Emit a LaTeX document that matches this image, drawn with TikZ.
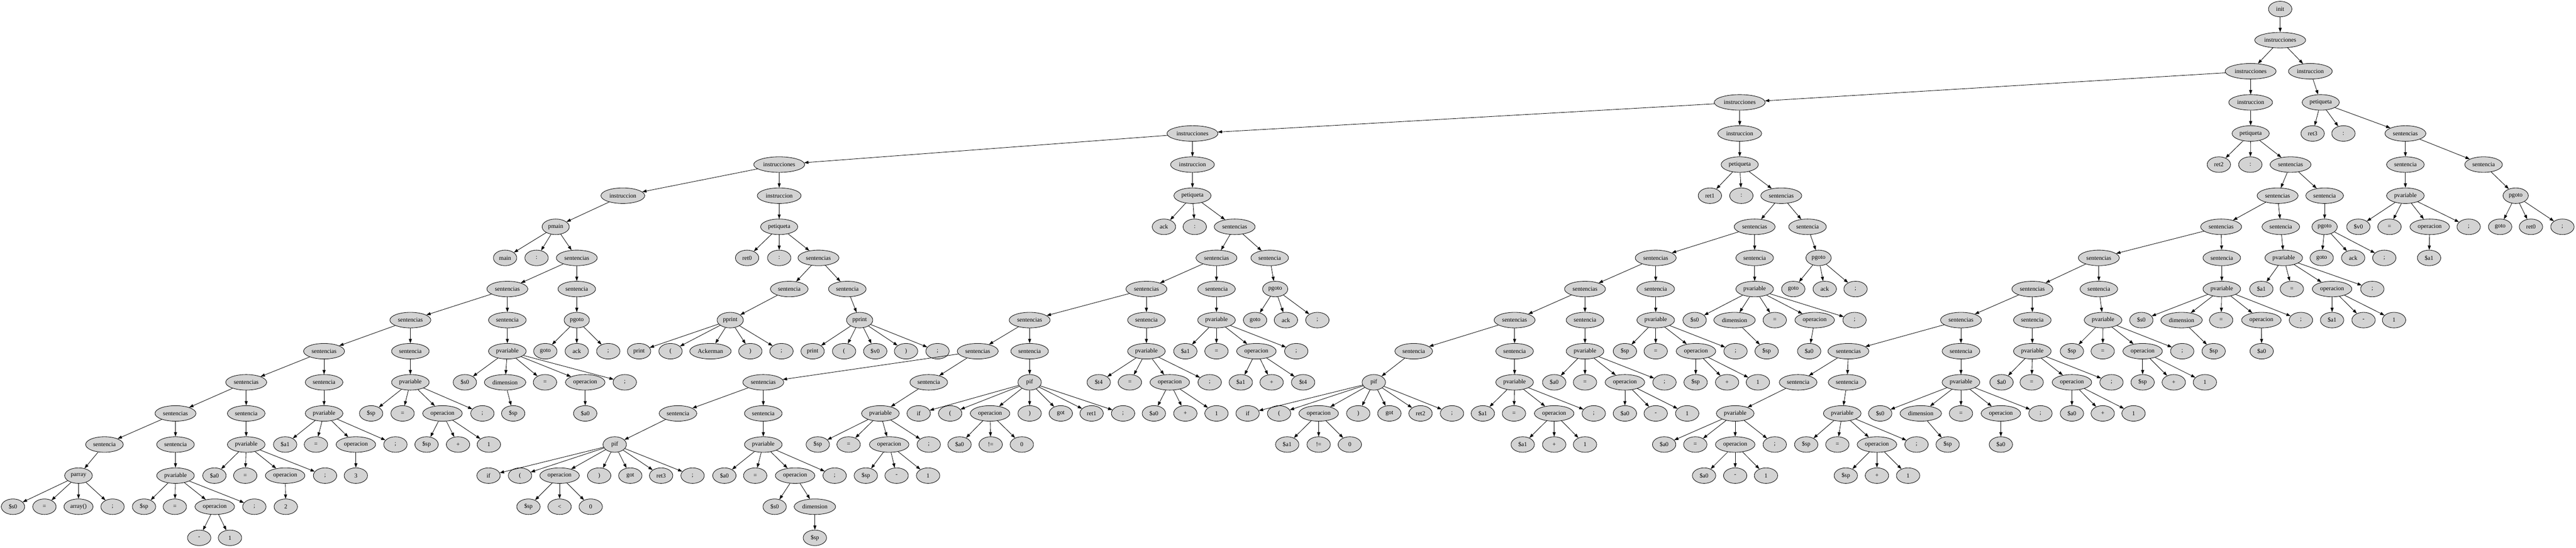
\documentclass[tikz,border=0pt]{standalone}
\usepackage{fontspec}
\setmainfont{Liberation Serif}
\usepackage{xcolor}
\usetikzlibrary{shapes.geometric,arrows.meta}
\definecolor{nodegray}{HTML}{D3D3D3}

\begin{document}
\begin{tikzpicture}[
    x=0.75bp,
    y=-72bp,
    tok/.style={ellipse,draw,fill=nodegray,line width=1bp,
        minimum width=54bp,minimum height=36bp,
        inner xsep=4.7bp,inner ysep=0pt,
        font={\fontsize{14bp}{16bp}\selectfont}},
    link/.style={-{Triangle[length=10bp,width=7bp]},line width=1bp},
    ]

    % page frame (x in pixels, y in ranks)
    \useasboundingbox (0,-0.2917) rectangle (7941,17.3229);

    % spine
    \node[tok] (init) at (7029,0) {init};
    \node[tok] (ins1) at (7029,1) {instrucciones};
    \node[tok] (ins2) at (6938,2) {instrucciones};
    \node[tok] (in6)  at (7122,2) {instruccion};
    \node[tok] (ins3) at (5363,3) {instrucciones};
    \node[tok] (in5)  at (6938,3) {instruccion};
    \node[tok] (pe6)  at (7154,3) {petiqueta};
    \node[tok] (ins4) at (3676,4) {instrucciones};
    \node[tok] (in4)  at (5363,4) {instruccion};
    \node[tok] (pe5)  at (6938,4) {petiqueta};
    \node[tok] (ins5) at (2402,5) {instrucciones};
    \node[tok] (in3)  at (3676,5) {instruccion};
    \node[tok] (pe4)  at (5363,5) {petiqueta};
    \node[tok] (in1)  at (1920,6) {instruccion};
    \node[tok] (in2)  at (2402,6) {instruccion};
    \node[tok] (pe3)  at (3676,6) {petiqueta};
    \node[tok] (pm)   at (1713,7) {pmain};
    \node[tok] (pe2)  at (2402,7) {petiqueta};

    \draw[link] (init) edge (ins1);
    \draw[link] (ins1) edge (ins2) edge (in6);
    \draw[link] (ins2) edge (ins3) edge (in5);
    \draw[link] (ins3) edge (ins4) edge (in4);
    \draw[link] (ins4) edge (ins5) edge (in3);
    \draw[link] (ins5) edge (in1) edge (in2);
    \draw[link] (in1) edge (pm);
    \draw[link] (in2) edge (pe2);
    \draw[link] (in3) edge (pe3);
    \draw[link] (in4) edge (pe4);
    \draw[link] (in5) edge (pe5);
    \draw[link] (in6) edge (pe6);

    % main
    \node[tok] (mlab) at (1557,8) {main};
    \node[tok] (mcol) at (1654,8) {:};
    \node[tok] (ms1)  at (1778,8) {sentencias};
    \node[tok] (ms2)  at (1564,9) {sentencias};
    \node[tok] (mst1) at (1778,9) {sentencia};
    \node[tok] (ms3)  at (1265,10) {sentencias};
    \node[tok] (mst2) at (1564,10) {sentencia};
    \node[tok] (mgo)  at (1778,10) {pgoto};
    \node[tok] (mgo1) at (1681,11) {goto};
    \node[tok] (mgo2) at (1778,11) {ack};
    \node[tok] (mgo3) at (1875,11) {;};
    \node[tok] (mpv2) at (1564,11) {pvariable};
    \node[tok] (mpv2a) at (1433,12) {\$s0};
    \node[tok] (mpv2b) at (1557,12) {dimension};
    \node[tok] (mpv2c) at (1680,12) {=};
    \node[tok] (mpv2d) at (1804,12) {operacion};
    \node[tok] (mpv2e) at (1926,12) {;};
    \node[tok] (mpv2f) at (1582,13) {\$sp};
    \node[tok] (mpv2g) at (1804,13) {\$a0};
    \node[tok] (ms4)  at (999,11) {sentencias};
    \node[tok] (mst3) at (1265,11) {sentencia};
    \node[tok] (mpv3) at (1265,12) {pvariable};
    \node[tok] (mpv3a) at (1144,13) {\$sp};
    \node[tok] (mpv3b) at (1241,13) {=};
    \node[tok] (mpv3c) at (1364,13) {operacion};
    \node[tok] (mpv3d) at (1487,13) {;};
    \node[tok] (mop3a) at (1315,14) {\$sp};
    \node[tok] (mop3b) at (1412,14) {+};
    \node[tok] (mop3c) at (1507,14) {1};
    \node[tok] (ms5)  at (759,12) {sentencias};
    \node[tok] (mst4) at (999,12) {sentencia};
    \node[tok] (mpv4) at (999,13) {pvariable};
    \node[tok] (mpv4a) at (879,14) {\$a1};
    \node[tok] (mpv4b) at (974,14) {=};
    \node[tok] (mpv4c) at (1097,14) {operacion};
    \node[tok] (mpv4d) at (1219,14) {;};
    \node[tok] (mop4a) at (1097,15) {3};
    \node[tok] (ms6)  at (541,13) {sentencias};
    \node[tok] (mst5) at (759,13) {sentencia};
    \node[tok] (mpv5) at (759,14) {pvariable};
    \node[tok] (mpv5a) at (661,15) {\$a0};
    \node[tok] (mpv5b) at (756,15) {=};
    \node[tok] (mpv5c) at (879,15) {operacion};
    \node[tok] (mpv5d) at (1002,15) {;};
    \node[tok] (mop5a) at (881,16) {2};
    \node[tok] (mst6) at (322,14) {sentencia};
    \node[tok] (mst7) at (541,14) {sentencia};
    \node[tok] (mpa)  at (242,15) {parray};
    \node[tok] (mpaa) at (40,16) {\$s0};
    \node[tok] (mpab) at (137,16) {=};
    \node[tok] (mpac) at (242,16) {array()};
    \node[tok] (mpad) at (347,16) {;};
    \node[tok] (mpv7) at (541,15) {pvariable};
    \node[tok] (mpv7a) at (444,16) {\$sp};
    \node[tok] (mpv7b) at (539,16) {=};
    \node[tok] (mpv7c) at (662,16) {operacion};
    \node[tok] (mpv7d) at (784,16) {;};
    \node[tok] (mop7a) at (614,17) {-};
    \node[tok] (mop7b) at (709,17) {1};

    \draw[link] (pm) edge (mlab) edge (mcol) edge (ms1);
    \draw[link] (ms1) edge (ms2) edge (mst1);
    \draw[link] (mst1) edge (mgo);
    \draw[link] (mgo) edge (mgo1) edge (mgo2) edge (mgo3);
    \draw[link] (ms2) edge (ms3) edge (mst2);
    \draw[link] (mst2) edge (mpv2);
    \draw[link] (mpv2) edge (mpv2a) edge (mpv2b) edge (mpv2c) edge (mpv2d) edge (mpv2e);
    \draw[link] (mpv2b) edge (mpv2f);
    \draw[link] (mpv2d) edge (mpv2g);
    \draw[link] (ms3) edge (ms4) edge (mst3);
    \draw[link] (mst3) edge (mpv3);
    \draw[link] (mpv3) edge (mpv3a) edge (mpv3b) edge (mpv3c) edge (mpv3d);
    \draw[link] (mpv3c) edge (mop3a) edge (mop3b) edge (mop3c);
    \draw[link] (ms4) edge (ms5) edge (mst4);
    \draw[link] (mst4) edge (mpv4);
    \draw[link] (mpv4) edge (mpv4a) edge (mpv4b) edge (mpv4c) edge (mpv4d);
    \draw[link] (mpv4c) edge (mop4a);
    \draw[link] (ms5) edge (ms6) edge (mst5);
    \draw[link] (mst5) edge (mpv5);
    \draw[link] (mpv5) edge (mpv5a) edge (mpv5b) edge (mpv5c) edge (mpv5d);
    \draw[link] (mpv5c) edge (mop5a);
    \draw[link] (ms6) edge (mst6) edge (mst7);
    \draw[link] (mst6) edge (mpa);
    \draw[link] (mpa) edge (mpaa) edge (mpab) edge (mpac) edge (mpad);
    \draw[link] (mst7) edge (mpv7);
    \draw[link] (mpv7) edge (mpv7a) edge (mpv7b) edge (mpv7c) edge (mpv7d);
    \draw[link] (mpv7c) edge (mop7a) edge (mop7b);

    % ret0
    \node[tok] (rlab) at (2303,8) {ret0};
    \node[tok] (rcol) at (2402,8) {:};
    \node[tok] (rs1)  at (2523,8) {sentencias};
    \node[tok] (rst1) at (2433,9) {sentencia};
    \node[tok] (rst2) at (2612,9) {sentencia};
    \node[tok] (rpp1) at (2251,10) {pprint};
    \node[tok] (rpp2) at (2650,10) {pprint};
    \node[tok] (rpp1a) at (1970,11) {print};
    \node[tok] (rpp1b) at (2067,11) {(};
    \node[tok] (rpp1c) at (2190,11) {Ackerman};
    \node[tok] (rpp1d) at (2313,11) {)};
    \node[tok] (rpp1e) at (2409,11) {;};
    \node[tok] (rpp2a) at (2505,11) {print};
    \node[tok] (rpp2b) at (2602,11) {(};
    \node[tok] (rpp2c) at (2698,11) {\$v0};
    \node[tok] (rpp2d) at (2793,11) {)};
    \node[tok] (rpp2e) at (2890,11) {;};

    \draw[link] (pe2) edge (rlab) edge (rcol) edge (rs1);
    \draw[link] (rs1) edge (rst1) edge (rst2);
    \draw[link] (rst1) edge (rpp1);
    \draw[link] (rst2) edge (rpp2);
    \draw[link] (rpp1) edge (rpp1a) edge (rpp1b) edge (rpp1c) edge (rpp1d) edge (rpp1e);
    \draw[link] (rpp2) edge (rpp2a) edge (rpp2b) edge (rpp2c) edge (rpp2d) edge (rpp2e);

    % ack
    \node[tok] (klab) at (3588,7) {ack};
    \node[tok] (kcol) at (3683,7) {:};
    \node[tok] (ks1)  at (3806,7) {sentencias};
    \node[tok] (ks2)  at (3750,8) {sentencias};
    \node[tok] (kst1) at (3914,8) {sentencia};
    \node[tok] (kgo)  at (3931,9) {pgoto};
    \node[tok] (kgo1) at (3869,10) {goto};
    \node[tok] (kgo2) at (3964,10) {ack};
    \node[tok] (kgo3) at (4061,10) {;};
    \node[tok] (ks3)  at (3534,9) {sentencias};
    \node[tok] (kst2) at (3750,9) {sentencia};
    \node[tok] (kpv2) at (3750,10) {pvariable};
    \node[tok] (kpv2a) at (3654,11) {\$a1};
    \node[tok] (kpv2b) at (3750,11) {=};
    \node[tok] (kpv2c) at (3873,11) {operacion};
    \node[tok] (kpv2d) at (3996,11) {;};
    \node[tok] (kop2a) at (3825,12) {\$a1};
    \node[tok] (kop2b) at (3920,12) {+};
    \node[tok] (kop2c) at (4017,12) {\$t4};
    \node[tok] (ks4)  at (3174,10) {sentencias};
    \node[tok] (kst3) at (3534,10) {sentencia};
    \node[tok] (kpv3) at (3534,11) {pvariable};
    \node[tok] (kpv3a) at (3387,12) {\$t4};
    \node[tok] (kpv3b) at (3483,12) {=};
    \node[tok] (kpv3c) at (3606,12) {operacion};
    \node[tok] (kpv3d) at (3729,12) {;};
    \node[tok] (kop3a) at (3557,13) {\$a0};
    \node[tok] (kop3b) at (3654,13) {+};
    \node[tok] (kop3c) at (3750,13) {1};
    \node[tok] (ks5)  at (3014,11) {sentencias};
    \node[tok] (kst4) at (3174,11) {sentencia};
    \node[tok] (kif4) at (3174,12) {pif};
    \node[tok] (kif4a) at (2832,13) {if};
    \node[tok] (kif4b) at (2929,13) {(};
    \node[tok] (kif4c) at (3052,13) {operacion};
    \node[tok] (kif4d) at (3174,13) {)};
    \node[tok] (kif4e) at (3270,13) {got};
    \node[tok] (kif4f) at (3365,13) {ret1};
    \node[tok] (kif4g) at (3462,13) {;};
    \node[tok] (kop4a) at (2958,14) {\$a0};
    \node[tok] (kop4b) at (3054,14) {!=};
    \node[tok] (kop4c) at (3150,14) {0};
    \node[tok] (ks6)  at (2353,12) {sentencias};
    \node[tok] (kst5) at (2863,12) {sentencia};
    \node[tok] (kpv5) at (2714,13) {pvariable};
    \node[tok] (kpv5a) at (2521,14) {\$sp};
    \node[tok] (kpv5b) at (2616,14) {=};
    \node[tok] (kpv5c) at (2741,14) {operacion};
    \node[tok] (kpv5d) at (2863,14) {;};
    \node[tok] (kop5a) at (2669,15) {\$sp};
    \node[tok] (kop5b) at (2764,15) {-};
    \node[tok] (kop5c) at (2861,15) {1};
    \node[tok] (kst6) at (2090,13) {sentencia};
    \node[tok] (kst7) at (2353,13) {sentencia};
    \node[tok] (kif6) at (1895,14) {pif};
    \node[tok] (kif6a) at (1506,15) {if};
    \node[tok] (kif6b) at (1603,15) {(};
    \node[tok] (kif6c) at (1725,15) {operacion};
    \node[tok] (kif6d) at (1847,15) {)};
    \node[tok] (kif6e) at (1943,15) {got};
    \node[tok] (kif6f) at (2038,15) {ret3};
    \node[tok] (kif6g) at (2135,15) {;};
    \node[tok] (kop6a) at (1629,16) {\$sp};
    \node[tok] (kop6b) at (1725,16) {<};
    \node[tok] (kop6c) at (1821,16) {0};
    \node[tok] (kpv7) at (2353,14) {pvariable};
    \node[tok] (kpv7a) at (2233,15) {\$a0};
    \node[tok] (kpv7b) at (2328,15) {=};
    \node[tok] (kpv7c) at (2451,15) {operacion};
    \node[tok] (kpv7d) at (2573,15) {;};
    \node[tok] (kop7a) at (2388,16) {\$s0};
    \node[tok] (kop7b) at (2512,16) {dimension};
    \node[tok] (kop7c) at (2512,17) {\$sp};

    \draw[link] (pe3) edge (klab) edge (kcol) edge (ks1);
    \draw[link] (ks1) edge (ks2) edge (kst1);
    \draw[link] (kst1) edge (kgo);
    \draw[link] (kgo) edge (kgo1) edge (kgo2) edge (kgo3);
    \draw[link] (ks2) edge (ks3) edge (kst2);
    \draw[link] (kst2) edge (kpv2);
    \draw[link] (kpv2) edge (kpv2a) edge (kpv2b) edge (kpv2c) edge (kpv2d);
    \draw[link] (kpv2c) edge (kop2a) edge (kop2b) edge (kop2c);
    \draw[link] (ks3) edge (ks4) edge (kst3);
    \draw[link] (kst3) edge (kpv3);
    \draw[link] (kpv3) edge (kpv3a) edge (kpv3b) edge (kpv3c) edge (kpv3d);
    \draw[link] (kpv3c) edge (kop3a) edge (kop3b) edge (kop3c);
    \draw[link] (ks4) edge (ks5) edge (kst4);
    \draw[link] (kst4) edge (kif4);
    \draw[link] (kif4) edge (kif4a) edge (kif4b) edge (kif4c) edge (kif4d)
                       edge (kif4e) edge (kif4f) edge (kif4g);
    \draw[link] (kif4c) edge (kop4a) edge (kop4b) edge (kop4c);
    \draw[link] (ks5) edge (ks6) edge (kst5);
    \draw[link] (kst5) edge (kpv5);
    \draw[link] (kpv5) edge (kpv5a) edge (kpv5b) edge (kpv5c) edge (kpv5d);
    \draw[link] (kpv5c) edge (kop5a) edge (kop5b) edge (kop5c);
    \draw[link] (ks6) edge (kst6) edge (kst7);
    \draw[link] (kst6) edge (kif6);
    \draw[link] (kif6) edge (kif6a) edge (kif6b) edge (kif6c) edge (kif6d)
                       edge (kif6e) edge (kif6f) edge (kif6g);
    \draw[link] (kif6c) edge (kop6a) edge (kop6b) edge (kop6c);
    \draw[link] (kst7) edge (kpv7);
    \draw[link] (kpv7) edge (kpv7a) edge (kpv7b) edge (kpv7c) edge (kpv7d);
    \draw[link] (kpv7c) edge (kop7a) edge (kop7b);
    \draw[link] (kop7b) edge (kop7c);

    % ret1
    \node[tok] (slab) at (5271,6) {ret1};
    \node[tok] (scol) at (5368,6) {:};
    \node[tok] (ss1)  at (5491,6) {sentencias};
    \node[tok] (ss2)  at (5409,7) {sentencias};
    \node[tok] (sst1) at (5572,7) {sentencia};
    \node[tok] (sgo)  at (5606,8) {pgoto};
    \node[tok] (sgo1) at (5528,9) {goto};
    \node[tok] (sgo2) at (5625,9) {ack};
    \node[tok] (sgo3) at (5720,9) {;};
    \node[tok] (ss3)  at (5104,8) {sentencias};
    \node[tok] (sst2) at (5409,8) {sentencia};
    \node[tok] (spv2) at (5409,9) {pvariable};
    \node[tok] (spv2a) at (5224,10) {\$s0};
    \node[tok] (spv2b) at (5347,10) {dimension};
    \node[tok] (spv2c) at (5471,10) {=};
    \node[tok] (spv2d) at (5594,10) {operacion};
    \node[tok] (spv2e) at (5717,10) {;};
    \node[tok] (spv2f) at (5446,11) {\$sp};
    \node[tok] (spv2g) at (5577,11) {\$a0};
    \node[tok] (ss4)  at (4886,9) {sentencias};
    \node[tok] (sst3) at (5104,9) {sentencia};
    \node[tok] (spv3) at (5104,10) {pvariable};
    \node[tok] (spv3a) at (5009,11) {\$sp};
    \node[tok] (spv3b) at (5104,11) {=};
    \node[tok] (spv3c) at (5228,11) {operacion};
    \node[tok] (spv3d) at (5350,11) {;};
    \node[tok] (sop3a) at (5227,12) {\$sp};
    \node[tok] (sop3b) at (5324,12) {+};
    \node[tok] (sop3c) at (5419,12) {1};
    \node[tok] (ss5)  at (4669,10) {sentencias};
    \node[tok] (sst4) at (4886,10) {sentencia};
    \node[tok] (spv4) at (4886,11) {pvariable};
    \node[tok] (spv4a) at (4791,12) {\$a0};
    \node[tok] (spv4b) at (4886,12) {=};
    \node[tok] (spv4c) at (5009,12) {operacion};
    \node[tok] (spv4d) at (5131,12) {;};
    \node[tok] (sop4a) at (5009,13) {\$a0};
    \node[tok] (sop4b) at (5104,13) {-};
    \node[tok] (sop4c) at (5201,13) {1};
    \node[tok] (sst5) at (4358,11) {sentencia};
    \node[tok] (sst6) at (4669,11) {sentencia};
    \node[tok] (sif5) at (4235,12) {pif};
    \node[tok] (sif5a) at (3846,13) {if};
    \node[tok] (sif5b) at (3943,13) {(};
    \node[tok] (sif5c) at (4065,13) {operacion};
    \node[tok] (sif5d) at (4187,13) {)};
    \node[tok] (sif5e) at (4283,13) {got};
    \node[tok] (sif5f) at (4379,13) {ret2};
    \node[tok] (sif5g) at (4476,13) {;};
    \node[tok] (sop5a) at (3968,14) {\$a1};
    \node[tok] (sop5b) at (4065,14) {!=};
    \node[tok] (sop5c) at (4161,14) {0};
    \node[tok] (spv6) at (4669,12) {pvariable};
    \node[tok] (spv6a) at (4571,13) {\$a1};
    \node[tok] (spv6b) at (4667,13) {=};
    \node[tok] (spv6c) at (4791,13) {operacion};
    \node[tok] (spv6d) at (4913,13) {;};
    \node[tok] (sop6a) at (4694,14) {\$a1};
    \node[tok] (sop6b) at (4791,14) {+};
    \node[tok] (sop6c) at (4886,14) {1};

    \draw[link] (pe4) edge (slab) edge (scol) edge (ss1);
    \draw[link] (ss1) edge (ss2) edge (sst1);
    \draw[link] (sst1) edge (sgo);
    \draw[link] (sgo) edge (sgo1) edge (sgo2) edge (sgo3);
    \draw[link] (ss2) edge (ss3) edge (sst2);
    \draw[link] (sst2) edge (spv2);
    \draw[link] (spv2) edge (spv2a) edge (spv2b) edge (spv2c) edge (spv2d) edge (spv2e);
    \draw[link] (spv2b) edge (spv2f);
    \draw[link] (spv2d) edge (spv2g);
    \draw[link] (ss3) edge (ss4) edge (sst3);
    \draw[link] (sst3) edge (spv3);
    \draw[link] (spv3) edge (spv3a) edge (spv3b) edge (spv3c) edge (spv3d);
    \draw[link] (spv3c) edge (sop3a) edge (sop3b) edge (sop3c);
    \draw[link] (ss4) edge (ss5) edge (sst4);
    \draw[link] (sst4) edge (spv4);
    \draw[link] (spv4) edge (spv4a) edge (spv4b) edge (spv4c) edge (spv4d);
    \draw[link] (spv4c) edge (sop4a) edge (sop4b) edge (sop4c);
    \draw[link] (ss5) edge (sst5) edge (sst6);
    \draw[link] (sst5) edge (sif5);
    \draw[link] (sif5) edge (sif5a) edge (sif5b) edge (sif5c) edge (sif5d)
                       edge (sif5e) edge (sif5f) edge (sif5g);
    \draw[link] (sif5c) edge (sop5a) edge (sop5b) edge (sop5c);
    \draw[link] (sst6) edge (spv6);
    \draw[link] (spv6) edge (spv6a) edge (spv6b) edge (spv6c) edge (spv6d);
    \draw[link] (spv6c) edge (sop6a) edge (sop6b) edge (sop6c);

    % ret2
    \node[tok] (tlab) at (6840,5) {ret2};
    \node[tok] (tcol) at (6937,5) {:};
    \node[tok] (ts1)  at (7061,5) {sentencias};
    \node[tok] (ts2)  at (7021,6) {sentencias};
    \node[tok] (tst1) at (7166,6) {sentencia};
    \node[tok] (tgo)  at (7166,7) {pgoto};
    \node[tok] (tgo1) at (7157,8) {goto};
    \node[tok] (tgo2) at (7254,8) {ack};
    \node[tok] (tgo3) at (7350,8) {;};
    \node[tok] (ts3)  at (6847,7) {sentencias};
    \node[tok] (tst2) at (7031,7) {sentencia};
    \node[tok] (tpv2) at (7040,8) {pvariable};
    \node[tok] (tpv2a) at (6971,9) {\$a1};
    \node[tok] (tpv2b) at (7065,9) {=};
    \node[tok] (tpv2c) at (7189,9) {operacion};
    \node[tok] (tpv2d) at (7313,9) {;};
    \node[tok] (top2a) at (7189,10) {\$a1};
    \node[tok] (top2b) at (7286,10) {-};
    \node[tok] (top2c) at (7380,10) {1};
    \node[tok] (ts4)  at (6470,8) {sentencias};
    \node[tok] (tst3) at (6849,8) {sentencia};
    \node[tok] (tpv3) at (6849,9) {pvariable};
    \node[tok] (tpv3a) at (6601,10) {\$s0};
    \node[tok] (tpv3b) at (6725,10) {dimension};
    \node[tok] (tpv3c) at (6847,10) {=};
    \node[tok] (tpv3d) at (6971,10) {operacion};
    \node[tok] (tpv3e) at (7093,10) {;};
    \node[tok] (tpv3f) at (6824,11) {\$sp};
    \node[tok] (tpv3g) at (6972,11) {\$a0};
    \node[tok] (ts5)  at (6265,9) {sentencias};
    \node[tok] (tst4) at (6470,9) {sentencia};
    \node[tok] (tpv4) at (6483,10) {pvariable};
    \node[tok] (tpv4a) at (6387,11) {\$sp};
    \node[tok] (tpv4b) at (6482,11) {=};
    \node[tok] (tpv4c) at (6605,11) {operacion};
    \node[tok] (tpv4d) at (6727,11) {;};
    \node[tok] (top4a) at (6605,12) {\$sp};
    \node[tok] (top4b) at (6701,12) {+};
    \node[tok] (top4c) at (6797,12) {1};
    \node[tok] (ts6)  at (6045,10) {sentencias};
    \node[tok] (tst5) at (6265,10) {sentencia};
    \node[tok] (tpv5) at (6265,11) {pvariable};
    \node[tok] (tpv5a) at (6170,12) {\$a0};
    \node[tok] (tpv5b) at (6263,12) {=};
    \node[tok] (tpv5c) at (6387,12) {operacion};
    \node[tok] (tpv5d) at (6509,12) {;};
    \node[tok] (top5a) at (6387,13) {\$a0};
    \node[tok] (top5b) at (6482,13) {+};
    \node[tok] (top5c) at (6577,13) {1};
    \node[tok] (ts7)  at (5698,11) {sentencias};
    \node[tok] (tst6) at (6045,11) {sentencia};
    \node[tok] (tpv6) at (6045,12) {pvariable};
    \node[tok] (tpv6a) at (5796,13) {\$s0};
    \node[tok] (tpv6b) at (5921,13) {dimension};
    \node[tok] (tpv6c) at (6045,13) {=};
    \node[tok] (tpv6d) at (6168,13) {operacion};
    \node[tok] (tpv6e) at (6290,13) {;};
    \node[tok] (tpv6f) at (6004,14) {\$sp};
    \node[tok] (tpv6g) at (6168,14) {\$a0};
    \node[tok] (tst7) at (5543,12) {sentencia};
    \node[tok] (tst8) at (5694,12) {sentencia};
    \node[tok] (tpv7) at (5349,13) {pvariable};
    \node[tok] (tpv7a) at (5130,14) {\$a0};
    \node[tok] (tpv7b) at (5226,14) {=};
    \node[tok] (tpv7c) at (5349,14) {operacion};
    \node[tok] (tpv7d) at (5471,14) {;};
    \node[tok] (top7a) at (5253,15) {\$a0};
    \node[tok] (top7b) at (5349,15) {-};
    \node[tok] (top7c) at (5444,15) {1};
    \node[tok] (tpv8) at (5679,13) {pvariable};
    \node[tok] (tpv8a) at (5568,14) {\$sp};
    \node[tok] (tpv8b) at (5664,14) {=};
    \node[tok] (tpv8c) at (5786,14) {operacion};
    \node[tok] (tpv8d) at (5908,14) {;};
    \node[tok] (top8a) at (5690,15) {\$sp};
    \node[tok] (top8b) at (5786,15) {+};
    \node[tok] (top8c) at (5882,15) {1};

    \draw[link] (pe5) edge (tlab) edge (tcol) edge (ts1);
    \draw[link] (ts1) edge (ts2) edge (tst1);
    \draw[link] (tst1) edge (tgo);
    \draw[link] (tgo) edge (tgo1) edge (tgo2) edge (tgo3);
    \draw[link] (ts2) edge (ts3) edge (tst2);
    \draw[link] (tst2) edge (tpv2);
    \draw[link] (tpv2) edge (tpv2a) edge (tpv2b) edge (tpv2c) edge (tpv2d);
    \draw[link] (tpv2c) edge (top2a) edge (top2b) edge (top2c);
    \draw[link] (ts3) edge (ts4) edge (tst3);
    \draw[link] (tst3) edge (tpv3);
    \draw[link] (tpv3) edge (tpv3a) edge (tpv3b) edge (tpv3c) edge (tpv3d) edge (tpv3e);
    \draw[link] (tpv3b) edge (tpv3f);
    \draw[link] (tpv3d) edge (tpv3g);
    \draw[link] (ts4) edge (ts5) edge (tst4);
    \draw[link] (tst4) edge (tpv4);
    \draw[link] (tpv4) edge (tpv4a) edge (tpv4b) edge (tpv4c) edge (tpv4d);
    \draw[link] (tpv4c) edge (top4a) edge (top4b) edge (top4c);
    \draw[link] (ts5) edge (ts6) edge (tst5);
    \draw[link] (tst5) edge (tpv5);
    \draw[link] (tpv5) edge (tpv5a) edge (tpv5b) edge (tpv5c) edge (tpv5d);
    \draw[link] (tpv5c) edge (top5a) edge (top5b) edge (top5c);
    \draw[link] (ts6) edge (ts7) edge (tst6);
    \draw[link] (tst6) edge (tpv6);
    \draw[link] (tpv6) edge (tpv6a) edge (tpv6b) edge (tpv6c) edge (tpv6d) edge (tpv6e);
    \draw[link] (tpv6b) edge (tpv6f);
    \draw[link] (tpv6d) edge (tpv6g);
    \draw[link] (ts7) edge (tst7) edge (tst8);
    \draw[link] (tst7) edge (tpv7);
    \draw[link] (tpv7) edge (tpv7a) edge (tpv7b) edge (tpv7c) edge (tpv7d);
    \draw[link] (tpv7c) edge (top7a) edge (top7b) edge (top7c);
    \draw[link] (tst8) edge (tpv8);
    \draw[link] (tpv8) edge (tpv8a) edge (tpv8b) edge (tpv8c) edge (tpv8d);
    \draw[link] (tpv8c) edge (top8a) edge (top8b) edge (top8c);

    % ret3
    \node[tok] (ulab) at (7129,4) {ret3};
    \node[tok] (ucol) at (7224,4) {:};
    \node[tok] (us1)  at (7415,4) {sentencias};
    \node[tok] (ust1) at (7415,5) {sentencia};
    \node[tok] (ust2) at (7656,5) {sentencia};
    \node[tok] (upv)  at (7415,6) {pvariable};
    \node[tok] (upva) at (7270,7) {\$v0};
    \node[tok] (upvb) at (7366,7) {=};
    \node[tok] (upvc) at (7490,7) {operacion};
    \node[tok] (upvd) at (7610,7) {;};
    \node[tok] (uop)  at (7488,8) {\$a1};
    \node[tok] (ugo)  at (7755,6) {pgoto};
    \node[tok] (ugo1) at (7707,7) {goto};
    \node[tok] (ugo2) at (7802,7) {ret0};
    \node[tok] (ugo3) at (7899,7) {;};

    \draw[link] (pe6) edge (ulab) edge (ucol) edge (us1);
    \draw[link] (us1) edge (ust1) edge (ust2);
    \draw[link] (ust1) edge (upv);
    \draw[link] (upv) edge (upva) edge (upvb) edge (upvc) edge (upvd);
    \draw[link] (upvc) edge (uop);
    \draw[link] (ust2) edge (ugo);
    \draw[link] (ugo) edge (ugo1) edge (ugo2) edge (ugo3);

\end{tikzpicture}
\end{document}
